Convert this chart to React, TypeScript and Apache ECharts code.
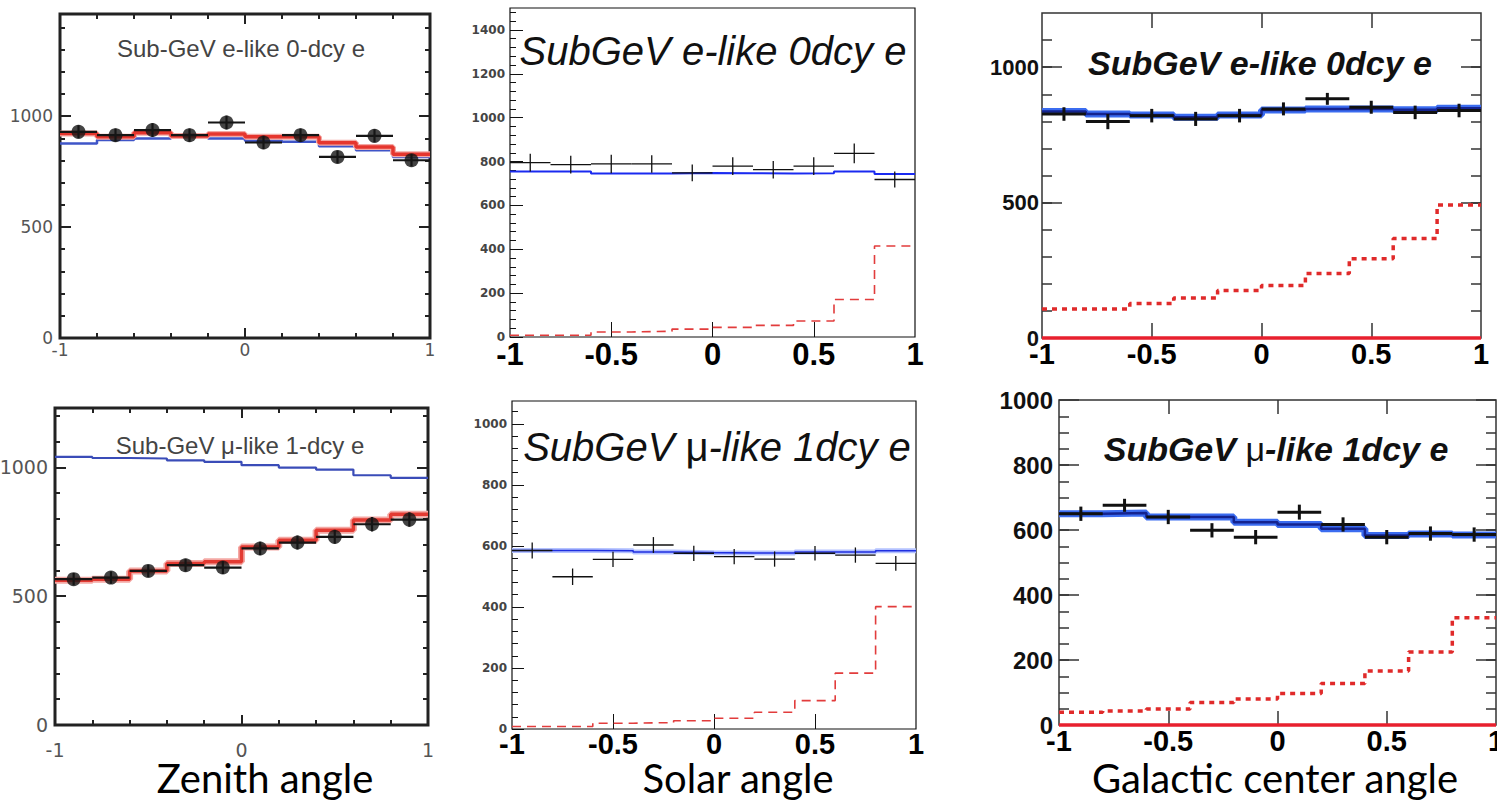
import React, { useEffect, useRef } from "react";
import * as echarts from "echarts";

// ---------- binning ----------
const binEdges = [-1, -0.8, -0.6, -0.4, -0.2, 0, 0.2, 0.4, 0.6, 0.8, 1];
const binCenters = [-0.9, -0.7, -0.5, -0.3, -0.1, 0.1, 0.3, 0.5, 0.7, 0.9];

// ---------- Zenith angle : Sub-GeV e-like 0-dcy e ----------
const zenEData = [929, 914, 937, 914, 971, 881, 914, 816, 911, 801];
const zenEErr = [30, 30, 31, 30, 31, 30, 30, 29, 30, 28];
const zenEFit = [922, 907, 925, 910, 919, 907, 907, 880, 861, 828];
const zenENoOsc = [877, 892, 899, 904, 899, 889, 884, 864, 846, 816];

// ---------- Zenith angle : Sub-GeV mu-like 1-dcy e ----------
const zenMuData = [566, 572, 598, 620, 611, 685, 708, 730, 779, 797];
const zenMuErr = [24, 24, 24, 25, 25, 26, 27, 27, 28, 28];
const zenMuFit = [562, 566, 598, 627, 633, 691, 717, 756, 795, 818];
const zenMuNoOsc = [1040, 1036, 1034, 1027, 1021, 1008, 999, 991, 969, 959];

// ---------- Solar angle : SubGeV e-like 0dcy e ----------
const solEData = [795, 786, 789, 789, 748, 779, 763, 779, 837, 718];
const solEErr = [40, 40, 42, 40, 38, 40, 40, 40, 45, 36];
const solEMC = [755, 755, 745, 745, 748, 747, 746, 747, 755, 743];
const solESignal = [8, 8, 23, 26, 36, 44, 53, 73, 171, 415];

// ---------- Solar angle : SubGeV mu-like 1dcy e ----------
const solMuData = [585, 499, 556, 603, 576, 565, 557, 576, 570, 543];
const solMuErr = [26, 27, 25, 26, 25, 25, 25, 24, 25, 24];
const solMuMC = [585, 585, 584, 580, 578, 577, 577, 580, 580, 584];
const solMuSignal = [8, 8, 19, 21, 27, 35, 55, 93, 183, 401];

// ---------- Galactic center angle : SubGeV e-like 0dcy e ----------
const galEData = [827, 799, 821, 809, 821, 846, 883, 852, 833, 840];
const galEErr = [25, 28, 25, 26, 25, 24, 22, 24, 25, 25];
const galEMC = [836, 827, 823, 815, 823, 842, 846, 846, 843, 848];
const galESignal = [107, 107, 127, 148, 175, 194, 238, 293, 367, 491];
const galEZero = [0, 0, 0, 0, 0, 0, 0, 0, 0, 0];

// ---------- Galactic center angle : SubGeV mu-like 1dcy e ----------
const galMuData = [650, 676, 640, 599, 578, 655, 617, 578, 589, 586];
const galMuErr = [22, 20, 22, 22, 22, 23, 22, 22, 22, 22];
const galMuMC = [650, 652, 640, 640, 624, 617, 604, 583, 588, 585];
const galMuSignal = [39, 43, 49, 69, 80, 97, 128, 166, 225, 330];
const galMuZero = [0, 0, 0, 0, 0, 0, 0, 0, 0, 0];

// ---------- tick labels ----------
const zenXLabels = [-1, 0, 1];
const zenXMajor = [-1, 0, 1];
const zenXMinor = [-0.8, -0.6, -0.4, -0.2, 0.2, 0.4, 0.6, 0.8];
const zenYLabels = [0, 500, 1000];
const angXLabels = [-1, -0.5, 0, 0.5, 1];
const angXMajor = [-0.5, 0, 0.5];
const solEYLabels = [0, 200, 400, 600, 800, 1000, 1200, 1400];
const solMuYLabels = [0, 200, 400, 600, 800, 1000];
const galEYLabels = [0, 500, 1000];
const galMuYLabels = [0, 200, 400, 600, 800, 1000];

const range = (a: number, b: number, s: number) => {
  const r: number[] = [];
  for (let v = a; v <= b + 1e-9; v += s) r.push(Math.round(v * 1000) / 1000);
  return r;
};

type TickSet = { values: number[]; len: number; sides: string[] };
type Panel = {
  left: number; top: number; width: number; height: number; yMax: number;
  border: string; borderWidth: number; tickColor: string; tickWidth: number;
  xLabels: number[]; xLabel: any; yLabels: number[]; yLabel: any;
  xTicks: TickSet[]; yTicks: TickSet[];
};

const fmt = (v: number) => String(v);

function addPanel(o: any, p: Panel) {
  const gi = o.grid.length;
  o.grid.push({
    left: p.left, top: p.top, width: p.width, height: p.height,
    show: true, borderColor: p.border, borderWidth: p.borderWidth,
    backgroundColor: "rgba(0,0,0,0)", containLabel: false, outerBoundsMode: "none",
  });
  const baseX = { gridIndex: gi, type: "value", min: -1, max: 1, axisLine: { show: false, onZero: false }, splitLine: { show: false } };
  const baseY = { gridIndex: gi, type: "value", min: 0, max: p.yMax, axisLine: { show: false, onZero: false }, splitLine: { show: false } };
  const xi = o.xAxis.length;
  o.xAxis.push({ ...baseX, position: "bottom", axisTick: { show: false }, axisLabel: { ...p.xLabel, customValues: p.xLabels, formatter: fmt } });
  p.xTicks.forEach((t) => t.sides.forEach((side) => o.xAxis.push({
    ...baseX, position: side, axisLabel: { show: false },
    axisTick: { show: true, inside: true, length: t.len, customValues: t.values, lineStyle: { color: p.tickColor, width: p.tickWidth } },
  })));
  const yi = o.yAxis.length;
  o.yAxis.push({ ...baseY, position: "left", axisTick: { show: false }, axisLabel: { ...p.yLabel, customValues: p.yLabels, formatter: fmt } });
  p.yTicks.forEach((t) => t.sides.forEach((side) => o.yAxis.push({
    ...baseY, position: side, axisLabel: { show: false },
    axisTick: { show: true, inside: true, length: t.len, customValues: t.values, lineStyle: { color: p.tickColor, width: p.tickWidth } },
  })));
  return { xi, yi };
}

const stepData = (vals: number[]) => binEdges.map((e, i) => [e, vals[Math.min(i, vals.length - 1)]]);

function step(ax: any, vals: number[], color: string, width: number, type: any = "solid", z = 3) {
  return {
    type: "line", xAxisIndex: ax.xi, yAxisIndex: ax.yi, step: "end", symbol: "none", silent: true, z, clip: false,
    data: stepData(vals), lineStyle: { color, width, type, cap: "butt" },
  };
}

function crosses(ax: any, vals: number[], errs: number[], color: string, width: number, z = 6) {
  return {
    type: "custom", xAxisIndex: ax.xi, yAxisIndex: ax.yi, z, silent: true, clip: false,
    encode: { x: 0, y: 1 },
    data: binCenters.map((c, i) => [c, vals[i], errs[i], binEdges[i], binEdges[i + 1]]),
    renderItem: (_p: any, api: any) => {
      const c = api.value(0), v = api.value(1), e = api.value(2);
      const l = api.coord([api.value(3), v]);
      const r = api.coord([api.value(4), v]);
      const t = api.coord([c, v + e]);
      const b = api.coord([c, v - e]);
      return {
        type: "group",
        children: [
          { type: "line", shape: { x1: l[0], y1: l[1], x2: r[0], y2: r[1] }, style: { stroke: color, lineWidth: width } },
          { type: "line", shape: { x1: t[0], y1: t[1], x2: b[0], y2: b[1] }, style: { stroke: color, lineWidth: width } },
        ],
      };
    },
  };
}

function dots(ax: any, vals: number[], size: number) {
  return {
    type: "scatter", xAxisIndex: ax.xi, yAxisIndex: ax.yi, z: 7, silent: true, symbol: "circle", symbolSize: size,
    itemStyle: { color: "#151515" }, data: binCenters.map((c, i) => [c, vals[i]]),
  };
}

function buildOption() {
  const o: any = { animation: false, backgroundColor: "#ffffff", grid: [], xAxis: [], yAxis: [], series: [], graphic: [] };

  const smallGray = (fs: number, margin: number) => ({ fontFamily: "DejaVu Sans", fontSize: fs, color: "#555", margin });
  const rootY = { fontFamily: "DejaVu Sans", fontSize: 12, fontWeight: "bold", color: "#444", margin: 5 };
  const boldX = (fs: number, margin: number) => ({ fontFamily: "Liberation Sans", fontSize: fs, fontWeight: "bold", color: "#000", margin });
  const boldY = (fs: number, margin: number) => ({ fontFamily: "Liberation Sans", fontSize: fs, fontWeight: "bold", color: "#111", margin });

  // Panel 1: zenith e-like
  const a1 = addPanel(o, {
    left: 60, top: 14, width: 370, height: 324, yMax: 1460, border: "#222", borderWidth: 3, tickColor: "#222", tickWidth: 2,
    xLabels: zenXLabels, xLabel: smallGray(17, 3), yLabels: zenYLabels, yLabel: smallGray(17, 7),
    xTicks: [{ values: zenXMajor, len: 10, sides: ["bottom", "top"] }, { values: zenXMinor, len: 5, sides: ["bottom", "top"] }],
    yTicks: [{ values: zenYLabels, len: 11, sides: ["left", "right"] }, { values: range(100, 1400, 100), len: 5, sides: ["left", "right"] }],
  });
  o.series.push(
    step(a1, zenENoOsc, "#3f55c8", 2.5, "solid", 3),
    step(a1, zenEFit, "#f4a8a4", 6, "solid", 4),
    step(a1, zenEFit, "#e5362e", 3.5, "solid", 5),
    crosses(a1, zenEData, zenEErr, "#151515", 2.2),
    dots(a1, zenEData, 14),
  );

  // Panel 4: zenith mu-like
  const a4 = addPanel(o, {
    left: 55, top: 408, width: 373, height: 317, yMax: 1230, border: "#222", borderWidth: 3, tickColor: "#222", tickWidth: 2,
    xLabels: zenXLabels, xLabel: smallGray(19, 15), yLabels: zenYLabels, yLabel: smallGray(19, 7),
    xTicks: [{ values: zenXMajor, len: 10, sides: ["bottom", "top"] }, { values: zenXMinor, len: 5, sides: ["bottom", "top"] }],
    yTicks: [{ values: zenYLabels, len: 11, sides: ["left", "right"] }, { values: range(100, 1200, 100), len: 5, sides: ["left", "right"] }],
  });
  o.series.push(
    step(a4, zenMuNoOsc, "#3a4cb8", 2.2, "solid", 3),
    step(a4, zenMuFit, "#f4a8a4", 7, "solid", 4),
    step(a4, zenMuFit, "#e33a32", 3.5, "solid", 5),
    crosses(a4, zenMuData, zenMuErr, "#151515", 2.2),
    dots(a4, zenMuData, 14),
  );

  // Panel 2: solar e-like
  const a2 = addPanel(o, {
    left: 510, top: 8, width: 405, height: 329, yMax: 1500, border: "#111", borderWidth: 1.2, tickColor: "#111", tickWidth: 1,
    xLabels: angXLabels, xLabel: boldX(31, 2), yLabels: solEYLabels, yLabel: rootY,
    xTicks: [{ values: angXMajor, len: 15, sides: ["bottom"] }],
    yTicks: [{ values: solEYLabels, len: 13, sides: ["left"] }, { values: range(40, 1480, 40), len: 6, sides: ["left"] }],
  });
  o.series.push(
    step(a2, solESignal, "#e23c3c", 1.6, [9, 6], 3),
    step(a2, solEMC, "#1a2af0", 2, "solid", 4),
    crosses(a2, solEData, solEErr, "#111", 1.3),
  );

  // Panel 5: solar mu-like
  const a5 = addPanel(o, {
    left: 512, top: 401, width: 404, height: 328, yMax: 1075, border: "#111", borderWidth: 1.2, tickColor: "#111", tickWidth: 1,
    xLabels: angXLabels, xLabel: boldX(29, 0), yLabels: solMuYLabels, yLabel: rootY,
    xTicks: [{ values: angXMajor, len: 15, sides: ["bottom"] }],
    yTicks: [{ values: solMuYLabels, len: 12, sides: ["left"] }, { values: range(40, 1040, 40), len: 6, sides: ["left"] }],
  });
  o.series.push(
    step(a5, solMuSignal, "#e23c3c", 1.6, [9, 6], 3),
    step(a5, solMuMC, "#b4c2ff", 5, "solid", 4),
    step(a5, solMuMC, "#1f2fe0", 1.6, "solid", 5),
    crosses(a5, solMuData, solMuErr, "#111", 1.3),
  );

  // Panel 3: galactic e-like
  const a3 = addPanel(o, {
    left: 1042, top: 13, width: 439, height: 325, yMax: 1200, border: "#333", borderWidth: 1.5, tickColor: "#333", tickWidth: 1.5,
    xLabels: angXLabels, xLabel: boldX(29, 1), yLabels: galEYLabels, yLabel: boldY(22, 3),
    xTicks: [{ values: angXMajor, len: 15, sides: ["bottom", "top"] }],
    yTicks: [{ values: galEYLabels, len: 20, sides: ["left", "right"] }, { values: range(100, 1100, 100), len: 10, sides: ["left", "right"] }],
  });
  o.series.push(
    step(a3, galEZero, "#e8202e", 3.5, "solid", 3),
    step(a3, galESignal, "#e02a2a", 3.5, [5, 5], 3),
    step(a3, galEMC, "#3b6cf0", 7, "solid", 4),
    step(a3, galEMC, "#14238f", 2.5, "solid", 5),
    crosses(a3, galEData, galEErr, "#111", 3),
  );

  // Panel 6: galactic mu-like
  const a6 = addPanel(o, {
    left: 1059, top: 400, width: 437, height: 325, yMax: 1000, border: "#333", borderWidth: 1.5, tickColor: "#333", tickWidth: 1.5,
    xLabels: angXLabels, xLabel: boldX(29, 1), yLabels: galMuYLabels, yLabel: boldY(24, 6),
    xTicks: [{ values: angXMajor, len: 14, sides: ["bottom", "top"] }],
    yTicks: [{ values: galMuYLabels, len: 20, sides: ["left", "right"] }, { values: range(50, 950, 50), len: 10, sides: ["left", "right"] }],
  });
  o.series.push(
    step(a6, galMuZero, "#e8202e", 3.5, "solid", 3),
    step(a6, galMuSignal, "#e02a2a", 3.5, [5, 5], 3),
    step(a6, galMuMC, "#3b6cf0", 7, "solid", 4),
    step(a6, galMuMC, "#14238f", 2.5, "solid", 5),
    crosses(a6, galMuData, galMuErr, "#111", 3),
  );

  // ---------- texts ----------
  const txt = (x: number, y: number, text: string, style: any, rich?: any) => ({
    type: "text", x, y, z: 20, silent: true,
    style: { text, align: "center", verticalAlign: "middle", ...style, ...(rich ? { rich } : {}) },
  });
  const grayTitle = { fontFamily: "Liberation Sans", fontSize: 24, fill: "#444" };
  const rootTitle = { fontFamily: "Liberation Sans", fontSize: 40, fontStyle: "italic", fill: "#111" };
  const boldTitle = { fontFamily: "Liberation Sans", fontSize: 34, fontStyle: "italic", fontWeight: "bold", fill: "#111" };
  const muRich = (base: any) => ({
    t: { ...base, fill: base.fill, fontStyle: base.fontStyle || "normal" },
    m: { ...base, fontStyle: "normal", fontWeight: "normal", fill: base.fill },
  });
  const axisName = { fontFamily: "Lato", fontSize: 40, fill: "#000" };

  o.graphic.push(
    txt(241, 48, "Sub-GeV e-like 0-dcy e", grayTitle),
    txt(240, 445, "{t|Sub-GeV }{m|μ}{t|-like 1-dcy e}", grayTitle, muRich(grayTitle)),
    txt(713, 51, "SubGeV e-like 0dcy e", rootTitle),
    txt(717, 447, "{t|SubGeV }{m|μ}{t|-like 1dcy e}", rootTitle, muRich(rootTitle)),
    txt(1260, 63, "SubGeV e-like 0dcy e", boldTitle),
    txt(1276, 449, "{t|SubGeV }{m|μ}{t|-like 1dcy e}", boldTitle, muRich(boldTitle)),
    txt(265, 778, "Zenith angle", axisName),
    txt(738, 778, "Solar angle", axisName),
    txt(1275, 778, "Galactic center angle", axisName),
  );
  return o;
}

export default function App() {
  const ref = useRef<HTMLDivElement>(null);
  useEffect(() => {
    if (!ref.current) return;
    const chart = echarts.init(ref.current, undefined, { renderer: "svg" });
    chart.setOption(buildOption());
    return () => chart.dispose();
  }, []);
  return <div ref={ref} style={{ position: "fixed", left: 0, top: 0, width: 1497, height: 804, background: "#fff" }} />;
}
